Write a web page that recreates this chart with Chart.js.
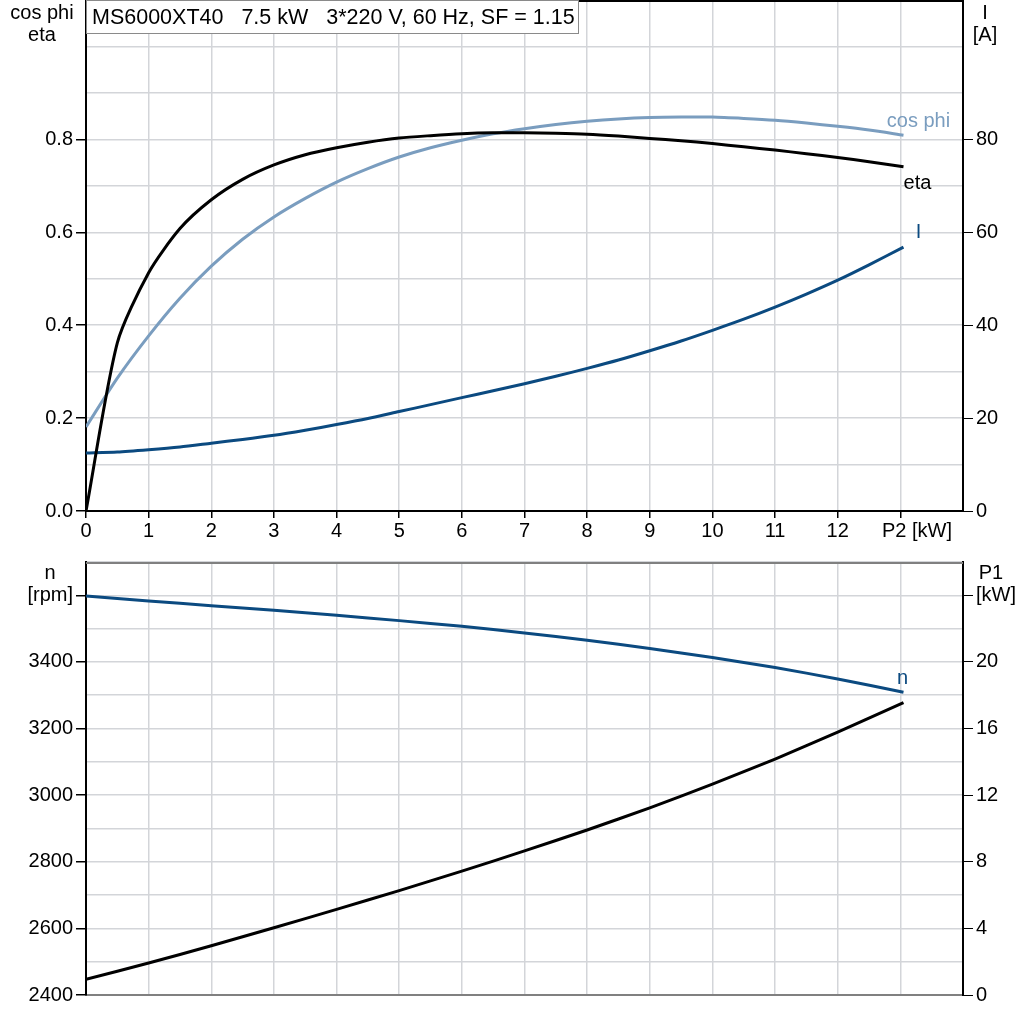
<!DOCTYPE html>
<html>
<head>
<meta charset="utf-8">
<script src="https://cdn.jsdelivr.net/npm/chart.js@4.4.1/dist/chart.umd.min.js"></script>
<style>
html, body { margin: 0; padding: 0; background: #fff; }
#wrap { position: relative; width: 1024px; height: 1024px; overflow: hidden; }
canvas { position: absolute; left: 0; }
</style>
</head>
<body>
<div id="wrap">
  <canvas id="chartTop" width="1024" height="545" style="top:0"></canvas>
  <canvas id="chartBottom" width="1024" height="479" style="top:545px"></canvas>
</div>
<script>
// hodnoty
const TITLE = 'MS6000XT40   7.5 kW   3*220 V, 60 Hz, SF = 1.15';

const p2Top = [0, 0.5, 1, 1.5, 2, 2.5, 3, 3.5, 4, 4.5, 5, 5.5, 6, 6.5, 7, 7.5, 8, 8.5, 9, 9.5, 10, 10.5, 11, 11.5, 12, 12.5, 13.05];
const eta = [0, 0.362, 0.513, 0.608, 0.67, 0.714, 0.745, 0.767, 0.782, 0.794, 0.803, 0.808, 0.812, 0.814, 0.814, 0.813, 0.811, 0.807, 0.802, 0.797, 0.791, 0.784, 0.777, 0.769, 0.761, 0.752, 0.741];
const cosPhi = [0.181, 0.286, 0.377, 0.458, 0.527, 0.585, 0.633, 0.673, 0.708, 0.737, 0.762, 0.782, 0.798, 0.812, 0.823, 0.832, 0.839, 0.844, 0.847, 0.848, 0.848, 0.845, 0.841, 0.835, 0.828, 0.82, 0.809];
const proud = [12.5, 12.7, 13.2, 13.8, 14.6, 15.4, 16.3, 17.4, 18.6, 19.9, 21.4, 22.9, 24.4, 25.9, 27.4, 29.0, 30.7, 32.5, 34.5, 36.6, 38.9, 41.3, 43.9, 46.7, 49.7, 53.0, 56.8];

const p2Bottom = [0, 1, 2, 3, 4, 5, 6, 7, 8, 9, 10, 11, 12, 13.05];
const otacky = [3598, 3583, 3569, 3555, 3540, 3524, 3507, 3487, 3465, 3440, 3413, 3383, 3349, 3309];
const prikon = [0.94, 1.92, 2.96, 4.04, 5.14, 6.27, 7.44, 8.65, 9.91, 11.24, 12.66, 14.17, 15.78, 17.56];

const GRID = '#d3d5d9';
const TMAVA = '#0b4a80';
const SVETLA = '#7a9dbf';
const FONT = 'Liberation Sans, Arial, sans-serif';

Chart.defaults.font.family = FONT;
Chart.defaults.font.size = 20;
Chart.defaults.color = '#000';

function body(xs, ys) {
    return xs.map((x, i) => ({ x: x, y: ys[i] }));
}

function sirkaY(w) {
    return function (scale) { scale.width = w; scale.paddingTop = 0; scale.paddingBottom = 0; };
}
function vyskaX(h) {
    return function (scale) { scale.height = h; scale.paddingLeft = 0; scale.paddingRight = 0; };
}

function cara(label, data, color, yAxisID) {
    return {
        label: label,
        data: data,
        borderColor: color,
        borderWidth: 3,
        pointRadius: 0,
        fill: false,
        tension: 0.25,
        yAxisID: yAxisID
    };
}

// popisky u konce křivek a texty os
const textyPlugin = {
    id: 'texty',
    afterDraw(chart, args, opts) {
        const ctx = chart.ctx;
        ctx.save();
        ctx.font = '20px ' + FONT;
        ctx.textBaseline = 'middle';
        ctx.textAlign = 'center';
        (opts.krivky || []).forEach(k => {
            const pts = chart.getDatasetMeta(k.ds).data;
            const p = pts[pts.length - 1];
            ctx.fillStyle = k.color;
            ctx.fillText(k.text, p.x + k.dx, p.y + k.dy);
        });
        (opts.osy || []).forEach(t => {
            ctx.fillStyle = '#000';
            ctx.fillText(t.text, t.x, t.y);
        });
        const a = chart.chartArea;
        if (opts.horniOkraj) {
            ctx.strokeStyle = opts.horniOkraj;
            ctx.lineWidth = 2;
            ctx.beginPath();
            ctx.moveTo(a.left, a.top + 1);
            ctx.lineTo(a.right, a.top + 1);
            ctx.stroke();
        }
        if (opts.titulek) {
            ctx.fillStyle = '#fff';
            ctx.fillRect(a.left, 0, 493, 34);
            ctx.strokeStyle = '#8a8a8a';
            ctx.lineWidth = 1;
            ctx.strokeRect(a.left + 0.5, 0.5, 492, 33);
            ctx.fillStyle = '#000';
            ctx.textAlign = 'left';
            ctx.font = '21.5px ' + FONT;
            ctx.fillText(opts.titulek, a.left + 6, 18);
        }
        ctx.restore();
    }
};

const jeLevyTop = v => { const k = Math.round(v * 10); return k % 2 === 0 && k <= 8; };
const jePravyTop = v => { const k = Math.round(v); return k % 20 === 0 && k <= 80; };

let chartTop = new Chart(document.getElementById('chartTop').getContext('2d'), {
    type: 'line',
    data: {
        datasets: [
            cara('eta', body(p2Top, eta), '#000', 'yL'),
            cara('cos phi', body(p2Top, cosPhi), SVETLA, 'yL'),
            cara('I', body(p2Top, proud), TMAVA, 'yR')
        ]
    },
    options: {
        responsive: false,
        animation: false,
        devicePixelRatio: 1,
        layout: { padding: 0 },
        plugins: {
            legend: { display: false },
            tooltip: { enabled: false },
            texty: {
                krivky: [
                    { ds: 1, text: 'cos phi', color: SVETLA, dx: 15, dy: -14 },
                    { ds: 0, text: 'eta', color: '#000', dx: 14, dy: 17 },
                    { ds: 2, text: 'I', color: TMAVA, dx: 15, dy: -15 }
                ],
                osy: [
                    { text: 'cos phi', x: 42, y: 13 },
                    { text: 'eta', x: 42, y: 35 },
                    { text: 'I', x: 985, y: 13 },
                    { text: '[A]', x: 985, y: 35 }
                ],
                horniOkraj: '#000',
                titulek: TITLE
            }
        },
        scales: {
            x: {
                type: 'linear',
                min: 0,
                max: 14,
                afterFit: vyskaX(34),
                ticks: {
                    stepSize: 1,
                    padding: 1,
                    maxRotation: 0,
                    autoSkip: false,
                    callback: v => v === 13 ? '\u00a0\u00a0\u00a0\u00a0\u00a0\u00a0P2 [kW]' : (v === 14 ? '' : String(v))
                },
                grid: {
                    color: GRID,
                    lineWidth: 1.5,
                    tickLength: 7,
                    tickColor: c => c.tick && c.tick.value === 14 ? 'rgba(0,0,0,0)' : '#000'
                },
                border: { color: '#000', width: 2 }
            },
            yL: {
                position: 'left',
                min: 0,
                max: 1.1,
                afterFit: sirkaY(86),
                ticks: {
                    stepSize: 0.1,
                    padding: 3,
                    autoSkip: false,
                    callback: v => jeLevyTop(v) ? (Math.round(v * 10) / 10).toFixed(1) : ''
                },
                grid: {
                    color: GRID,
                    lineWidth: 1.5,
                    tickLength: 10,
                    tickColor: c => c.tick && jeLevyTop(c.tick.value) ? '#000' : 'rgba(0,0,0,0)'
                },
                border: { color: '#000', width: 2 }
            },
            yR: {
                position: 'right',
                min: 0,
                max: 110,
                afterFit: sirkaY(61),
                ticks: {
                    stepSize: 10,
                    padding: 3,
                    autoSkip: false,
                    callback: v => jePravyTop(v) ? String(v) : ''
                },
                grid: {
                    drawOnChartArea: false,
                    tickLength: 10,
                    tickColor: c => c.tick && jePravyTop(c.tick.value) ? '#000' : 'rgba(0,0,0,0)'
                },
                border: { color: '#000', width: 2 }
            }
        }
    },
    plugins: [textyPlugin]
});

const jeLevyBot = v => v === 3600 || (v % 200 === 0 && v <= 3400);
const jePravyBot = v => v === 24 || (v % 4 === 0 && v <= 20);

let chartBottom = new Chart(document.getElementById('chartBottom').getContext('2d'), {
    type: 'line',
    data: {
        datasets: [
            cara('n', body(p2Bottom, otacky), TMAVA, 'yL'),
            cara('P1', body(p2Bottom, prikon), '#000', 'yR')
        ]
    },
    options: {
        responsive: false,
        animation: false,
        devicePixelRatio: 1,
        layout: { padding: { top: 17, left: 0, right: 0, bottom: 0 } },
        plugins: {
            legend: { display: false },
            tooltip: { enabled: false },
            texty: {
                krivky: [
                    { ds: 0, text: 'n', color: TMAVA, dx: -1, dy: -14 }
                ],
                osy: [
                    { text: 'n', x: 50, y: 28 },
                    { text: 'P1', x: 991, y: 28 }
                ],
                horniOkraj: '#808080'
            }
        },
        scales: {
            x: {
                type: 'linear',
                min: 0,
                max: 14,
                afterFit: vyskaX(29),
                ticks: { display: false, stepSize: 1 },
                grid: { color: GRID, lineWidth: 1.5, drawTicks: false },
                border: { color: '#808080', width: 2 }
            },
            yL: {
                position: 'left',
                min: 2400,
                max: 3700,
                afterFit: sirkaY(86),
                ticks: {
                    stepSize: 100,
                    padding: 3,
                    autoSkip: false,
                    callback: v => v === 3600 ? '[rpm]' : (jeLevyBot(v) ? String(v) : '')
                },
                grid: {
                    color: GRID,
                    lineWidth: 1.5,
                    tickLength: 10,
                    tickColor: c => c.tick && jeLevyBot(c.tick.value) ? '#000' : 'rgba(0,0,0,0)'
                },
                border: { color: '#000', width: 2 }
            },
            yR: {
                position: 'right',
                min: 0,
                max: 26,
                afterFit: sirkaY(61),
                ticks: {
                    stepSize: 2,
                    padding: 3,
                    autoSkip: false,
                    callback: v => v === 24 ? '[kW]' : (jePravyBot(v) ? String(v) : '')
                },
                grid: {
                    drawOnChartArea: false,
                    tickLength: 10,
                    tickColor: c => c.tick && jePravyBot(c.tick.value) ? '#000' : 'rgba(0,0,0,0)'
                },
                border: { color: '#000', width: 2 }
            }
        }
    },
    plugins: [textyPlugin]
});
</script>
</body>
</html>
